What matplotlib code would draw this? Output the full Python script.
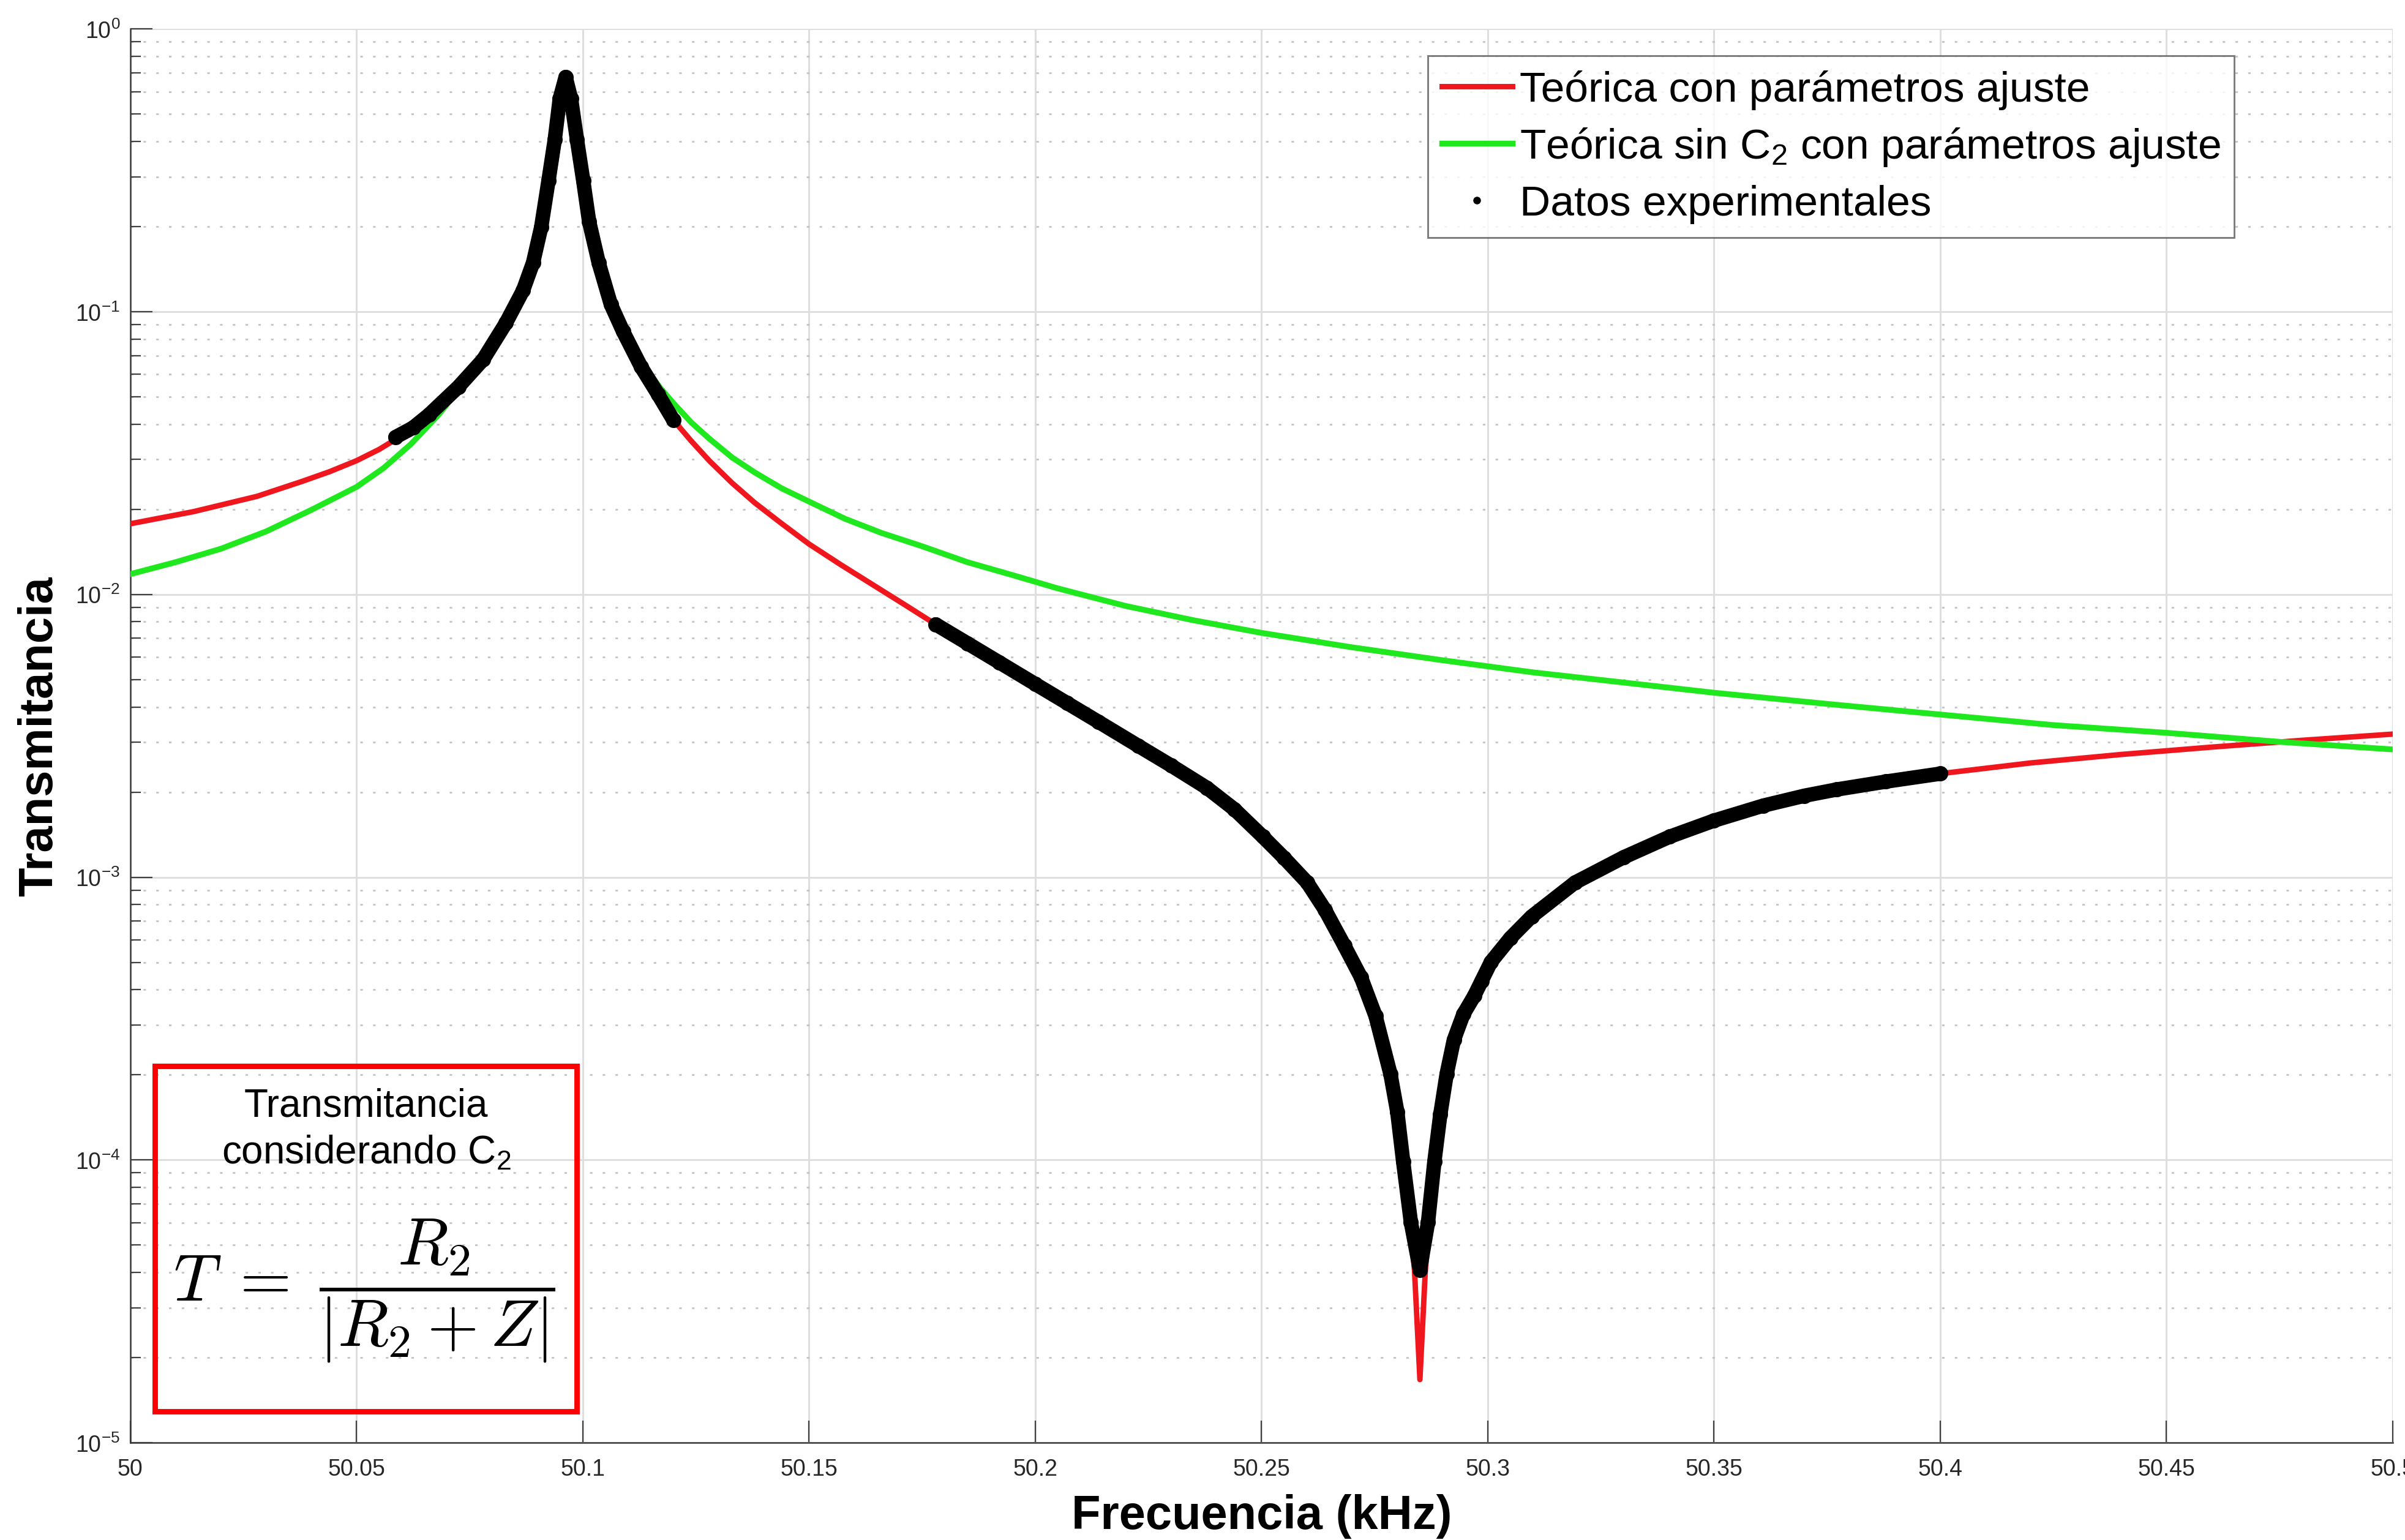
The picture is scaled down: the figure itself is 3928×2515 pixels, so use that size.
import matplotlib
matplotlib.use('Agg')
import matplotlib.pyplot as plt
from matplotlib.lines import Line2D
from matplotlib.patches import Rectangle

plt.rcParams['font.family'] = ['Liberation Sans', 'DejaVu Sans']
plt.rcParams['mathtext.fontset'] = 'custom'
plt.rcParams['mathtext.rm'] = 'Liberation Sans'
plt.rcParams['mathtext.it'] = 'Liberation Sans:italic'
plt.rcParams['mathtext.bf'] = 'Liberation Sans:bold'

# --- data (frequency in kHz, transmittance) ---
# theoretical curve with C2
red_f = [50.000, 50.014, 50.028, 50.038, 50.044, 50.050, 50.055, 50.059, 50.0625,
         50.066, 50.0725, 50.078, 50.083, 50.0868, 50.089, 50.0908, 50.0924, 50.0938,
         50.0949, 50.0962, 50.0974, 50.0987, 50.1001, 50.1014, 50.1035, 50.1062,
         50.1089, 50.1129, 50.1166, 50.120, 50.124, 50.128, 50.133, 50.138, 50.144,
         50.150, 50.157, 50.164, 50.171, 50.178, 50.185, 50.192, 50.200, 50.207,
         50.214, 50.2227, 50.230, 50.2379, 50.244, 50.2503, 50.255, 50.2601, 50.264,
         50.2683, 50.272, 50.2752, 50.2785, 50.2800, 50.2813, 50.2830, 50.2838,
         50.2850, 50.2862, 50.2870, 50.2882, 50.2895, 50.2909, 50.2925, 50.2946,
         50.2970, 50.2986, 50.3007, 50.3050, 50.3097, 50.3193, 50.330, 50.3402,
         50.350, 50.3609, 50.370, 50.3771, 50.388, 50.400, 50.420, 50.440, 50.460,
         50.480, 50.500]
red_T = [0.01778, 0.01963, 0.02223, 0.02512, 0.02716, 0.02972, 0.03258, 0.03565, 0.03890,
         0.04315, 0.05420, 0.06776, 0.09120, 0.1191, 0.1486, 0.1986, 0.2904, 0.4055,
         0.5662, 0.6761, 0.5662, 0.4055, 0.2904, 0.2080, 0.1486, 0.1064,
         0.08511, 0.06368, 0.05105, 0.04140, 0.03483, 0.02965, 0.02477, 0.02109, 0.01778,
         0.01507, 0.01274, 0.01084, 0.009226, 0.007834, 0.006714, 0.005754, 0.004819, 0.004130,
         0.003540, 0.002917, 0.002483, 0.002070, 0.001738, 0.001390, 0.001169, 0.0009572, 0.0007674,
         0.0005728, 0.0004416, 0.0003228, 0.0002009, 0.0001479, 0.00009863, 0.00005623, 0.00004074,
         0.00001671, 0.00004074, 0.00005623, 0.00009863, 0.0001445, 0.0002009, 0.0002655, 0.0003273,
         0.0003802, 0.0004285, 0.0005012, 0.0006095, 0.0007261, 0.0009572, 0.001175, 0.001390,
         0.001585, 0.001791, 0.001941, 0.002042, 0.002178, 0.002323, 0.002535, 0.002716, 0.002884,
         0.003048, 0.003206]

# theoretical curve without C2
green_f = [50.000, 50.010, 50.020, 50.030, 50.040, 50.050, 50.056, 50.062, 50.068,
           50.073, 50.078, 50.082, 50.085, 50.088, 50.090, 50.092, 50.0935, 50.0948,
           50.0956, 50.0962, 50.0970, 50.0980, 50.0995, 50.1010, 50.1030, 50.1055,
           50.108, 50.111, 50.114, 50.117, 50.120, 50.124, 50.128, 50.133, 50.138,
           50.144, 50.150, 50.158, 50.166, 50.175, 50.185, 50.195, 50.205, 50.220,
           50.235, 50.250, 50.270, 50.290, 50.310, 50.330, 50.350, 50.375, 50.400,
           50.425, 50.450, 50.475, 50.500]
green_T = [0.0118, 0.0130, 0.0145, 0.0167, 0.0199, 0.0240, 0.0280, 0.0340, 0.0430,
           0.0540, 0.0710, 0.0880, 0.107, 0.135, 0.165, 0.220, 0.300, 0.420,
           0.560, 0.676, 0.600, 0.470, 0.330, 0.230, 0.165, 0.120,
           0.094, 0.076, 0.063, 0.054, 0.0475, 0.0405, 0.0355, 0.0305, 0.0270,
           0.0237, 0.0213, 0.0185, 0.0165, 0.0148, 0.0130, 0.0117, 0.0105, 0.0091,
           0.0081, 0.00731, 0.00650, 0.00585, 0.00530, 0.00488, 0.00449, 0.00410, 0.00376,
           0.00345, 0.00324, 0.00301, 0.00283]

# experimental points, two measured frequency windows
exp1_f = [50.0586, 50.0625, 50.066, 50.0725, 50.078, 50.083, 50.0868, 50.089,
          50.0908, 50.0924, 50.0938, 50.0949, 50.0962, 50.0974, 50.0987, 50.1001,
          50.1014, 50.1035, 50.1062, 50.1089, 50.1129, 50.1166, 50.1200]
exp1_T = [0.0360, 0.0389, 0.0432, 0.0542, 0.0678, 0.0912, 0.119, 0.149,
          0.199, 0.290, 0.406, 0.566, 0.676, 0.566, 0.406, 0.290,
          0.208, 0.149, 0.106, 0.0851, 0.0637, 0.0511, 0.0414]
exp2_f = [50.178, 50.185, 50.192, 50.200, 50.207, 50.214, 50.2227, 50.230,
          50.2379, 50.244, 50.2503, 50.255, 50.2601, 50.264, 50.2683, 50.272,
          50.2752, 50.2785, 50.2800, 50.2813, 50.2830, 50.2850, 50.2868, 50.2882,
          50.2895, 50.2909, 50.2925, 50.2946, 50.2970, 50.2986, 50.3007, 50.3050,
          50.3097, 50.3193, 50.330, 50.3402, 50.350, 50.3609, 50.370, 50.3771,
          50.388, 50.400]
exp2_T = [0.007834, 0.006714, 0.005754, 0.004819, 0.004130, 0.003540, 0.002917, 0.002483,
          0.002070, 0.001738, 0.001390, 0.001169, 0.0009572, 0.0007674, 0.0005728, 0.0004416,
          0.0003228, 0.0002009, 0.0001479, 0.00009863, 0.00006026, 0.00004074, 0.00006026, 0.00009863,
          0.0001445, 0.0002009, 0.0002655, 0.0003273, 0.0003802, 0.0004285, 0.0005012, 0.0006095,
          0.0007261, 0.0009572, 0.001175, 0.001390, 0.001585, 0.001791, 0.001941, 0.002042,
          0.002178, 0.002323]

x_ticks = [50, 50.05, 50.1, 50.15, 50.2, 50.25, 50.3, 50.35, 50.4, 50.45, 50.5]
x_tick_labels = ['50', '50.05', '50.1', '50.15', '50.2', '50.25', '50.3',
                 '50.35', '50.4', '50.45', '50.5']
y_ticks = [1e-5, 1e-4, 1e-3, 1e-2, 1e-1, 1e0]
y_tick_labels = ['$10^{-5}$', '$10^{-4}$', '$10^{-3}$', '$10^{-2}$', '$10^{-1}$', '$10^{0}$']

RED = '#f0161e'
GREEN = '#1fe81f'

fig = plt.figure(figsize=(19.64, 12.579), dpi=200)
ax = fig.add_axes([0.0542, 0.0632, 0.9407, 0.9177])
ax.set_yscale('log')

ax.plot(red_f, red_T, color=RED, lw=3.2, zorder=3, label='Teórica con parámetros ajuste')
ax.plot(green_f, green_T, color=GREEN, lw=3.4, zorder=4,
        label='Teórica sin C$_2$ con parámetros ajuste')
for ef, eT in [(exp1_f, exp1_T), (exp2_f, exp2_T)]:
    ax.plot(ef, eT, color='k', lw=8.5, solid_capstyle='round', solid_joinstyle='round', zorder=5)
    ax.plot(ef, eT, 'o', color='k', ms=8, zorder=5)

ax.set_xlim(50, 50.5)
ax.set_ylim(1e-5, 1)
ax.set_xticks(x_ticks)
ax.set_xticklabels(x_tick_labels)
ax.set_yticks(y_ticks)
ax.set_yticklabels(y_tick_labels)

ax.tick_params(axis='both', which='major', direction='in', labelsize=13.5,
               length=13, width=0.8, color='#404040', labelcolor='#262626')
ax.tick_params(axis='y', which='minor', direction='in', length=6, width=0.8, color='#404040')
ax.tick_params(axis='x', pad=9)
ax.tick_params(axis='y', pad=6)

ax.grid(True, which='major', color='#dedede', lw=1.1, zorder=0)
ax.yaxis.grid(True, which='minor', color='#c4c4c4', lw=1.0, linestyle=(0, (1.5, 6)), zorder=0)
ax.set_axisbelow(True)
for s in ['top', 'right']:
    ax.spines[s].set_visible(False)
for s in ['left', 'bottom']:
    ax.spines[s].set_color('#3a3a3a')
    ax.spines[s].set_linewidth(0.9)

ax.set_xlabel('Frecuencia (kHz)', fontsize=28, fontweight='bold', labelpad=8)
ax.set_ylabel('Transmitancia', fontsize=28, fontweight='bold', labelpad=8)

handles, labels = ax.get_legend_handles_labels()
handles.append(Line2D([], [], marker='o', color='k', ls='none', ms=3.5))
labels.append('Datos experimentales')
leg = ax.legend(handles, labels, loc='upper right', bbox_to_anchor=(0.930, 0.981),
                fontsize=25, frameon=True, fancybox=False, edgecolor='#555555',
                handlelength=1.65, handletextpad=0.17, borderpad=0.33,
                labelspacing=0.38, borderaxespad=0)
leg.get_frame().set_linewidth(1.0)

ax.add_patch(Rectangle((0.0108, 0.0221), 0.1865, 0.2443, transform=ax.transAxes,
                       fill=False, edgecolor='#ff0000', lw=3.2, zorder=6))
ax.text(0.1042, 0.2382, 'Transmitancia', transform=ax.transAxes, ha='center',
        va='center', fontsize=23, zorder=7)
ax.text(0.1042, 0.2053, 'considerando C$_2$', transform=ax.transAxes, ha='center',
        va='center', fontsize=23, zorder=7)
ax.text(0.1034, 0.1074, r'$T\;=\;\dfrac{R_2}{|R_2 + Z|}$', transform=ax.transAxes,
        ha='center', va='center', fontsize=39, math_fontfamily='cm', zorder=7)

fig.savefig('out.png', dpi=200)
